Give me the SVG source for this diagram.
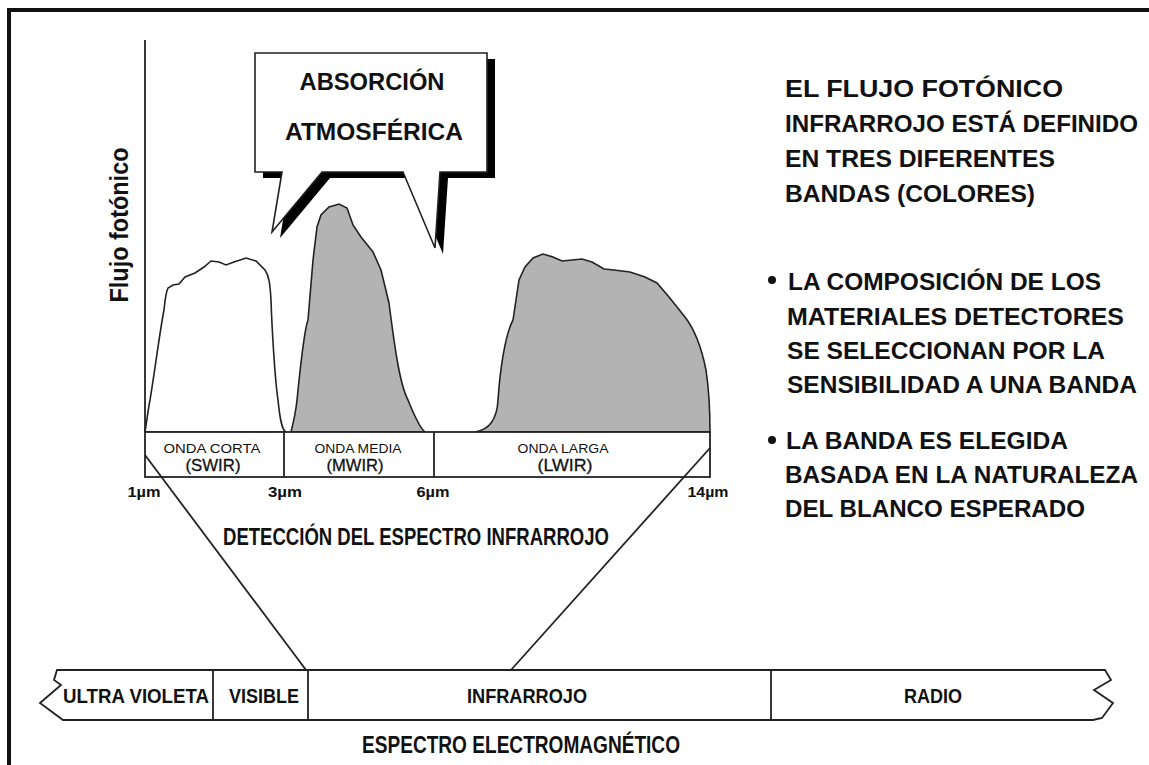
<svg xmlns="http://www.w3.org/2000/svg" width="1149" height="765" viewBox="0 0 1149 765">
<style>
.b{font-family:"Liberation Sans",Arial,sans-serif;font-weight:bold;fill:#111}
.r{font-family:"Liberation Sans",Arial,sans-serif;fill:#111}
.c{font-family:"Liberation Sans",Arial,sans-serif;font-weight:bold;fill:#111;font-size:24px}
.k{font-family:"Liberation Sans",Arial,sans-serif;font-weight:bold;fill:#111;font-size:21px}
.ln{stroke:#222;stroke-width:1.8;fill:none}
.curve{stroke:#222;stroke-width:1.6}
</style>
<rect width="1149" height="765" fill="#fff"/>
<rect x="9" y="10" width="1200" height="800" fill="none" stroke="#111" stroke-width="4"/>

<g id="axis">
<line x1="145" y1="40" x2="145" y2="432" class="ln"/>
<text class="b" font-size="26" transform="translate(128,225) rotate(-90)" text-anchor="middle" textLength="155" lengthAdjust="spacingAndGlyphs">Flujo fotónico</text>
</g>

<g id="curves">
<path class="curve" fill="#fff" d="M145,432 C147,420 148,410 150,400 C155,370 160,330 164,310 C165,300 166,292 168,288 L173,285 L179,284 L185,277 L195,273 L204,267 L211,261 L219,262 L226,265 L234,262 L246,258 L256,261 L265,270 C269,276 270,283 271,300 C272,330 275,380 278,400 C280,420 282,430 286,432 Z"/>
<path class="curve" fill="#b3b3b3" d="M291,432 C294,420 296,410 297,400 C300,370 304,330 308,320 L313,260 L317,227 L321,215 L329,207 L339,204 L347,208 L353,225 L361,237 L373,252 L381,270 L389,303 C395,350 400,385 408,400 C414,415 420,428 425,432 Z"/>
<path class="curve" fill="#b3b3b3" d="M475,432 C488,430 497,420 498,400 C500,370 505,335 513,320 L519,280 L525,267 L533,258 L543,254 L553,257 L562,261 L572,260 L582,259 L592,262 L604,269 L614,270 L630,272 L645,277 L657,283 L669,297 L685,317 C695,330 702,350 706,370 C709,390 710,410 710,432 Z"/>
</g>

<g id="callout">
<path fill="#000" transform="translate(8,6)" d="M255,53 H487 V172 H440 L435,248 L403,172 H322 L272,232 L282,172 H255 Z"/>
<path fill="#fff" stroke="#222" stroke-width="1.6" d="M255,53 H487 V172 H440 L435,248 L403,172 H322 L272,232 L282,172 H255 Z"/>
<text class="b" font-size="24" x="372" y="90" text-anchor="middle" textLength="145" lengthAdjust="spacingAndGlyphs">ABSORCIÓN</text>
<text class="b" font-size="24" x="374" y="140" text-anchor="middle" textLength="178" lengthAdjust="spacingAndGlyphs">ATMOSFÉRICA</text>
</g>

<g id="bands">
<rect x="145" y="432" width="565" height="45" fill="#fff" stroke="#222" stroke-width="1.8"/>
<line x1="284" y1="432" x2="284" y2="477" class="ln"/>
<line x1="434" y1="432" x2="434" y2="477" class="ln"/>
<text class="r" font-size="13" x="212" y="453" text-anchor="middle" textLength="97" lengthAdjust="spacingAndGlyphs">ONDA CORTA</text>
<text class="r" font-size="16" x="213" y="471" text-anchor="middle" textLength="55" lengthAdjust="spacingAndGlyphs" stroke="#111" stroke-width="0.3">(SWIR)</text>
<text class="r" font-size="13" x="358" y="453" text-anchor="middle" textLength="87" lengthAdjust="spacingAndGlyphs">ONDA MEDIA</text>
<text class="r" font-size="16" x="355" y="471" text-anchor="middle" textLength="57" lengthAdjust="spacingAndGlyphs" stroke="#111" stroke-width="0.3">(MWIR)</text>
<text class="r" font-size="13" x="563" y="453" text-anchor="middle" textLength="91" lengthAdjust="spacingAndGlyphs">ONDA LARGA</text>
<text class="r" font-size="16" x="565" y="471" text-anchor="middle" textLength="55" lengthAdjust="spacingAndGlyphs" stroke="#111" stroke-width="0.3">(LWIR)</text>
</g>

<g id="ticks">
<text class="b" font-size="15" x="144" y="497" text-anchor="middle" textLength="33" lengthAdjust="spacingAndGlyphs">1µm</text>
<text class="b" font-size="15" x="285" y="497" text-anchor="middle" textLength="34" lengthAdjust="spacingAndGlyphs">3µm</text>
<text class="b" font-size="15" x="433" y="497" text-anchor="middle" textLength="33" lengthAdjust="spacingAndGlyphs">6µm</text>
<text class="b" font-size="15" x="708" y="497" text-anchor="middle" textLength="41" lengthAdjust="spacingAndGlyphs">14µm</text>
<text class="c" x="416" y="545" text-anchor="middle" textLength="386" lengthAdjust="spacingAndGlyphs">DETECCIÓN DEL ESPECTRO INFRARROJO</text>
</g>

<g id="connectors">
<line x1="145" y1="455" x2="306" y2="670" class="ln"/>
<line x1="710" y1="448" x2="511" y2="670" class="ln"/>
</g>

<g id="spectrum">
<path fill="#fff" stroke="#222" stroke-width="1.8" d="M57,670 H1105 L1111,680 L1094,690 L1113,703 L1102,718 L1093,720 H63 L40,703 L61,685 L54,680 Z"/>
<line x1="213" y1="670" x2="213" y2="720" class="ln"/>
<line x1="308" y1="670" x2="308" y2="720" class="ln"/>
<line x1="771" y1="670" x2="771" y2="720" class="ln"/>
<text class="k" x="136" y="703" text-anchor="middle" textLength="146" lengthAdjust="spacingAndGlyphs">ULTRA VIOLETA</text>
<text class="k" x="264" y="703" text-anchor="middle" textLength="70" lengthAdjust="spacingAndGlyphs">VISIBLE</text>
<text class="k" x="527" y="703" text-anchor="middle" textLength="120" lengthAdjust="spacingAndGlyphs">INFRARROJO</text>
<text class="k" x="933" y="703" text-anchor="middle" textLength="58" lengthAdjust="spacingAndGlyphs">RADIO</text>
<text class="c" x="521" y="753" text-anchor="middle" textLength="318" lengthAdjust="spacingAndGlyphs">ESPECTRO ELECTROMAGNÉTICO</text>
</g>

<g id="notes">
<text class="b" font-size="24" x="785" y="97" textLength="278" lengthAdjust="spacingAndGlyphs">EL FLUJO FOTÓNICO</text>
<text class="b" font-size="24" x="785" y="132" textLength="353" lengthAdjust="spacingAndGlyphs">INFRARROJO ESTÁ DEFINIDO</text>
<text class="b" font-size="24" x="785" y="167" textLength="270" lengthAdjust="spacingAndGlyphs">EN TRES DIFERENTES</text>
<text class="b" font-size="24" x="785" y="202" textLength="250" lengthAdjust="spacingAndGlyphs">BANDAS (COLORES)</text>
<circle cx="772" cy="280" r="4" fill="#111"/>
<text class="b" font-size="24" x="788" y="290" textLength="313" lengthAdjust="spacingAndGlyphs">LA COMPOSICIÓN DE LOS</text>
<text class="b" font-size="24" x="787" y="325" textLength="337" lengthAdjust="spacingAndGlyphs">MATERIALES DETECTORES</text>
<text class="b" font-size="24" x="787" y="359" textLength="318" lengthAdjust="spacingAndGlyphs">SE SELECCIONAN POR LA</text>
<text class="b" font-size="24" x="787" y="393" textLength="350" lengthAdjust="spacingAndGlyphs">SENSIBILIDAD A UNA BANDA</text>
<circle cx="772" cy="440" r="4" fill="#111"/>
<text class="b" font-size="24" x="786" y="449" textLength="282" lengthAdjust="spacingAndGlyphs">LA BANDA ES ELEGIDA</text>
<text class="b" font-size="24" x="785" y="483" textLength="353" lengthAdjust="spacingAndGlyphs">BASADA EN LA NATURALEZA</text>
<text class="b" font-size="24" x="785" y="517" textLength="300" lengthAdjust="spacingAndGlyphs">DEL BLANCO ESPERADO</text>
</g>
</svg>
